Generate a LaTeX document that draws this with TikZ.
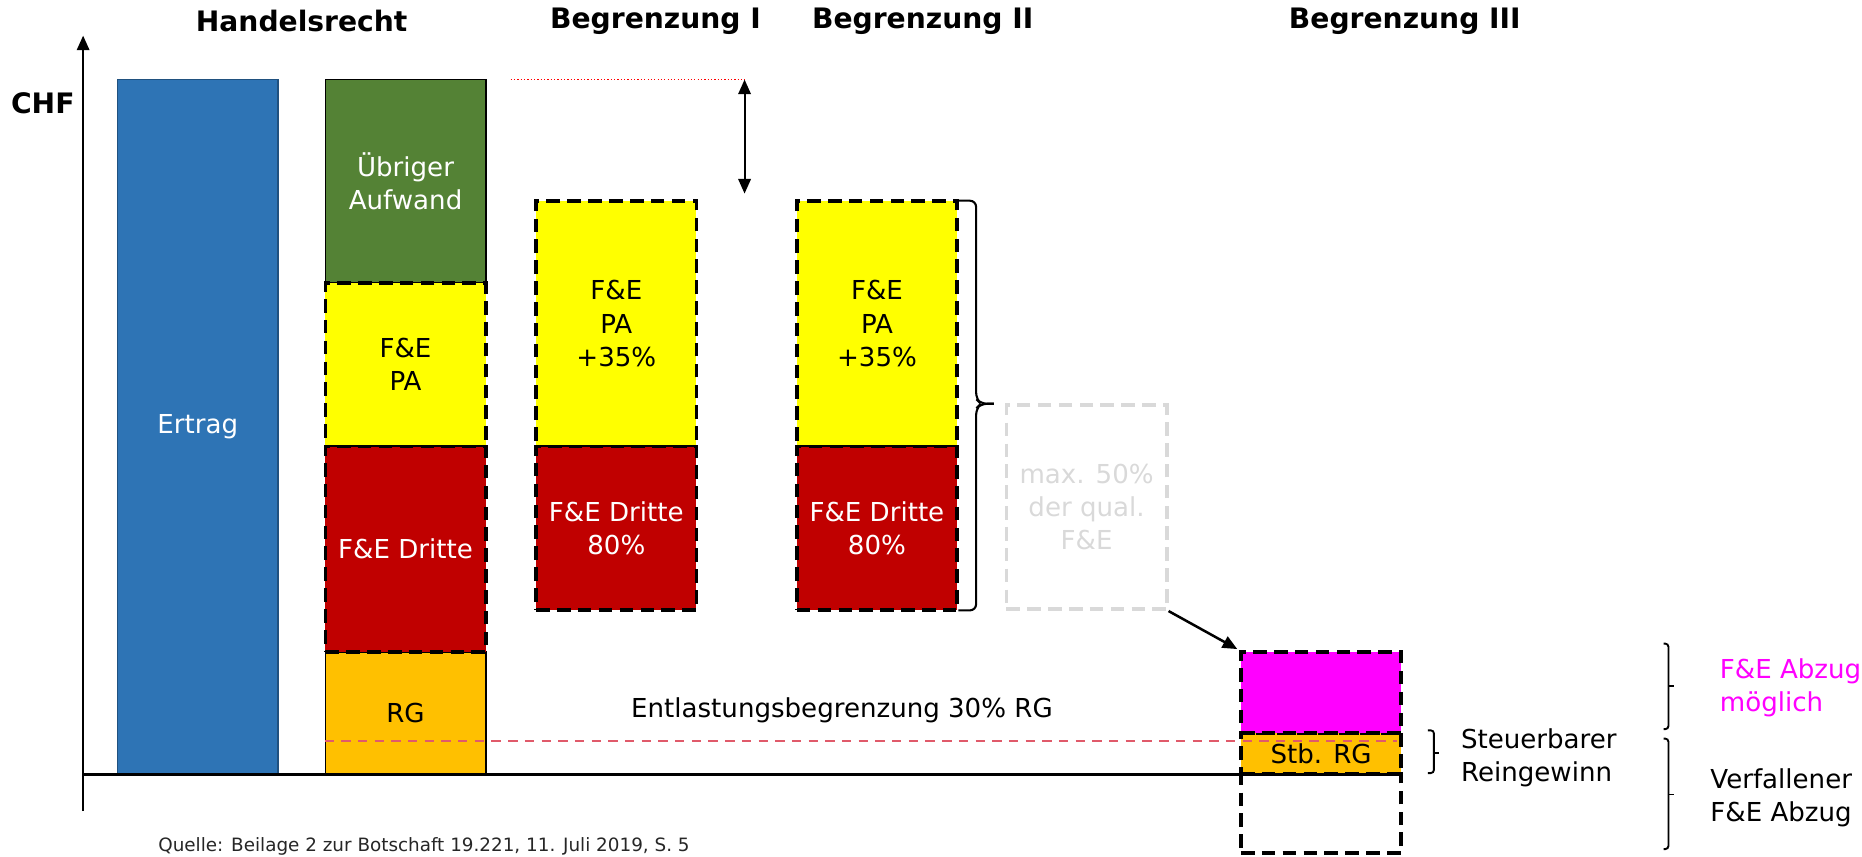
\documentclass[tikz,border=0pt]{standalone}
\usepackage{fontspec}
\setmainfont{DejaVu Sans}
\usetikzlibrary{arrows.meta}

\definecolor{ertragblau}{HTML}{2E74B5}
\definecolor{aufwandgruen}{HTML}{548235}
\definecolor{fegelb}{HTML}{FFFF00}
\definecolor{drittrot}{HTML}{C00000}
\definecolor{rgorange}{HTML}{FFC000}
\definecolor{abzugmagenta}{HTML}{FF00FF}
\definecolor{hellgrau}{HTML}{D9D9D9}
\definecolor{linierot}{HTML}{E05A6A}

\tikzset{
	saeule/.style={minimum width=2.7cm, inner sep=0pt, align=center},
	strich/.style={draw=black, line width=1.8pt, dash pattern=on 6.5pt off 3.5pt},
	voll/.style={draw=black, line width=0.8pt},
	titel/.style={font=\fontsize{13.5}{16}\selectfont\bfseries},
	klammer/.style={line width=0.9pt, rounded corners=1.5pt},
	spitze/.style={-{Triangle[length=7pt, width=6pt]}},
}

\begin{document}
\begin{tikzpicture}[x=0.02cm, y=-0.02cm, font=\fontsize{12.5}{16}\selectfont]
	\useasboundingbox (0,0) rectangle (1568,721);

	\node[titel] (handel) at (254,18) {Handelsrecht};
	\node[titel] (begr1) at (552,18) {Begrenzung I};
	\node[titel] (begr2) at (777,18) {Begrenzung II};
	\node[titel] (begr3) at (1183,18) {Begrenzung III};
	\node[titel] (chf) at (36,87) {CHF};

	\node[saeule, fill=ertragblau, draw=ertragblau!70!black, line width=0.8pt,
		minimum height=11.7cm, text=white] (ertrag) at (166.5,359.5) {Ertrag};

	\node[saeule, voll, fill=aufwandgruen, minimum height=3.42cm,
		text=white] (aufwand) at (341.5,152.5) {Übriger\\Aufwand};
	\node[saeule, voll, fill=rgorange, minimum height=2.06cm] (rg) at (341.5,600.5) {RG};
	\node[saeule, strich, fill=fegelb, minimum height=2.76cm] (pa) at (341.5,307) {F\&E\\PA};
	\node[saeule, strich, fill=drittrot, minimum height=3.46cm,
		text=white] (dritte) at (341.5,462.5) {F\&E Dritte};

	\node[saeule, strich, fill=fegelb, minimum height=4.14cm] (paeins) at (519,272.5) {F\&E\\PA\\+35\%};
	\node[saeule, strich, fill=drittrot, minimum height=2.76cm,
		text=white] (dritteeins) at (519,445) {F\&E Dritte\\80\%};

	\node[saeule, strich, fill=fegelb, minimum height=4.14cm] (pazwei) at (738.5,272.5) {F\&E\\PA\\+35\%};
	\node[saeule, strich, fill=drittrot, minimum height=2.76cm,
		text=white] (drittezwei) at (738.5,445) {F\&E Dritte\\80\%};

	\node[saeule, strich, draw=hellgrau, minimum height=3.44cm,
		text=hellgrau] (grau) at (915,427) {max. 50\%\\der qual.\\F\&E};

	\node[saeule, strich, minimum height=1.32cm] (verfall) at (1112.5,685) {};
	\node[saeule, strich, fill=rgorange, minimum height=0.7cm] (stbrg) at (1112.5,634.5) {Stb. RG};
	\node[saeule, strich, fill=abzugmagenta, minimum height=1.36cm] (abzug) at (1112.5,583) {};

	\node (entlastung) at (709,598) {Entlastungsbegrenzung 30\% RG};
	\draw[linierot, line width=1.1pt, dash pattern=on 4.5pt off 3.5pt] (rg.west |- 0,624) -- (1176,624);

	\coordinate (oben) at (627,67);
	\coordinate (unten) at (627,163);
	\draw[red, line width=0.6pt, densely dotted] (430,67) -- (oben);
	\draw[{Triangle[length=7pt, width=6pt]}-{Triangle[length=7pt, width=6pt]}, line width=0.9pt] (oben) -- (unten);

	\draw[klammer, line width=1pt, rounded corners=3pt] (807,169) -| (822,336) -- (826,340) -- (837,340);
	\draw[klammer, line width=1pt, rounded corners=3pt] (807,514) -| (822,344) -- (826,340) -- (837,340);
	\draw[spitze, line width=1.2pt, shorten >=1pt] (grau.south east) -- (abzug.north west);

	\draw[spitze, line width=0.9pt] (70,683) -- (70,30);
	\draw[line width=1.2pt] (70,652) -- (1180,652);

	\draw[klammer] (1202.5,615) -| (1207.5,651) -- (1202.5,651);
	\draw[klammer] (1207.5,634) -- (1211.5,634);
	\node[anchor=west, inner sep=0pt, align=left] (steuerbar) at (1230,638) {Steuerbarer\\Reingewinn};

	\draw[klammer] (1401,542) -| (1405,614) -- (1401,614);
	\draw[klammer] (1405,578) -- (1409.5,578);
	\node[anchor=west, inner sep=0pt, align=left, text=abzugmagenta] (moeglich) at (1448,579) {F\&E Abzug\\möglich};

	\draw[klammer] (1401,622) -| (1405,715) -- (1401,715);
	\draw[klammer] (1405,669) -- (1409.5,669);
	\node[anchor=west, inner sep=0pt, align=left] (verfallen) at (1440,672) {Verfallener\\F\&E Abzug};

	\node[anchor=west, inner sep=0pt, text=black!85, font=\fontsize{8.8}{10}\selectfont] (quelle) at (133,713)
		{Quelle: Beilage 2 zur Botschaft 19.221, 11. Juli 2019, S. 5};
\end{tikzpicture}
\end{document}
